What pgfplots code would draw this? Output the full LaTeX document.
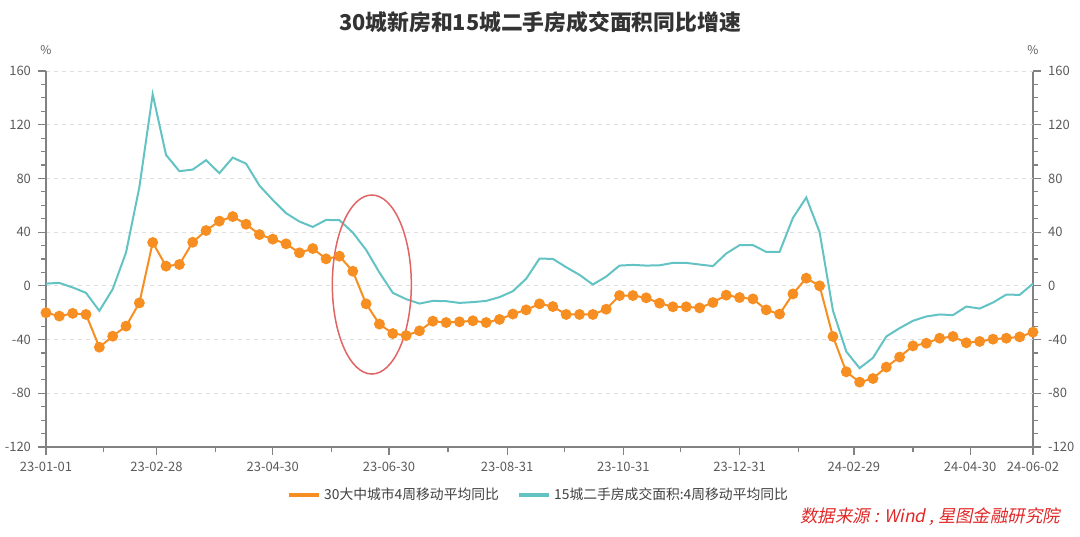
\documentclass[border=0pt]{standalone}
\usepackage{fontspec}
\setmainfont{Noto Sans CJK SC}
\newfontfamily\srcfont[FakeSlant=0.2]{Noto Sans CJK SC}
\usepackage{pgfplots}
\usepackage{pgfplotstable}
\pgfplotsset{compat=1.18}
\definecolor{cOrange}{RGB}{247,142,33}
\definecolor{cCyan}{RGB}{99,195,196}
\definecolor{cAxis}{RGB}{130,130,130}
\definecolor{cText}{RGB}{90,90,90}
\definecolor{cRed}{RGB}{225,40,40}
\definecolor{cEll}{RGB}{225,100,100}

\pgfplotstableread{
d o c
0 -20 1.7
7 -22.5 2.2
14 -20.5 -1.2
21 -21.3 -5.2
28 -45.7 -18.6
35 -37.5 -2.5
42 -30 24.8
49 -12.7 73.5
56 32.3 142.7
63 14.7 97.5
70 15.9 85.4
77 32.5 86.6
84 41.2 93.6
91 48.2 83.9
98 51.6 95.5
105 45.9 91
112 38.2 74.7
119 34.8 64
126 31.3 54.1
133 24.6 47.9
140 27.8 43.9
147 20.1 49.1
154 22.1 48.9
161 10.9 39.7
168 -13.4 26.8
175 -28.5 9.9
182 -35.5 -5.2
189 -37 -9.9
196 -33.5 -13.2
203 -26.3 -11.2
210 -27.3 -11.4
217 -26.8 -12.7
224 -26 -12.1
231 -27.3 -11.2
238 -25 -8.4
245 -21 -4
252 -17.9 5.3
259 -13.4 20.3
266 -15.4 20.1
273 -21.3 13.9
280 -21.3 8.2
287 -21.3 1
294 -17.4 6.9
301 -7.2 15.1
308 -7.2 15.6
315 -8.9 15.1
322 -12.9 15.3
329 -15.6 17.1
336 -15.6 17.1
343 -16.4 15.9
350 -12.4 14.7
357 -6.9 24.1
364 -8.7 30.3
371 -9.7 30.3
378 -17.9 25.3
385 -21 25.3
392 -6 50.6
399 5.7 65.8
406 0 40
413 -37.7 -18.4
420 -64 -48.9
427 -71.7 -61.3
434 -69 -53.6
441 -60.5 -37.7
448 -53 -31.5
455 -44.7 -26
462 -42.7 -22.8
469 -39 -21.3
476 -37.7 -21.8
483 -42.4 -15.4
490 -41.4 -16.9
497 -39.7 -12.4
504 -39 -6.5
511 -38 -6.7
518 -34.5 1.7
}\data

\begin{document}
\begin{tikzpicture}
\path[use as bounding box] (0,0) rectangle (540pt,268pt);
\pgfplotsset{
  common/.style={
    at={(23pt,44.5pt)}, anchor=south west, scale only axis,
    width=493.5pt, height=188pt,
    xmin=0, xmax=518, ymin=-120, ymax=160,
    axis line style={cAxis, line width=0.6pt},
    tick style={cAxis, line width=0.6pt},
    tick align=outside, major tick length=4pt, minor tick length=2.5pt,
    ytick={-120,-80,-40,0,40,80,120,160},
    yticklabels={-120,-80,-40,0,40,80,120,160},
    minor y tick num=3,
    tick label style={font=\fontsize{6.5}{7}\selectfont, text=cText},
  }
}
\begin{axis}[common, axis x line=none, axis y line*=right]
\end{axis}
\begin{axis}[common,
    axis x line*=bottom, axis y line*=left,
    xtick={0,58,119,180,242,303,364,424,485,518},
    xticklabels={23-01-01,23-02-28,23-04-30,23-06-30,23-08-31,23-10-31,23-12-31,24-02-29,24-04-30,24-06-02},
    minor xtick={30,89,150,211,272,333,395,455},
    ymajorgrids,
    major grid style={dash pattern=on 2pt off 2pt, black!13, line width=0.5pt},
    legend style={at={(0.5,-0.1277)}, anchor=center, draw=none, fill=none,
      legend columns=2, font=\fontsize{6.9}{8}\selectfont, text=black!75,
      /tikz/every even column/.append style={column sep=7pt}},
    legend image code/.code={\draw[#1, mark=none, line width=1.6pt] (0pt,0pt) -- (15pt,0pt);},
  ]
\addlegendimage{cOrange}
\addlegendentry{30大中城市4周移动平均同比}
\addlegendimage{cCyan}
\addlegendentry{15城二手房成交面积:4周移动平均同比}
\addplot[cCyan, line width=1pt, mark=none, forget plot] table[x=d, y=c] {\data};
\addplot[cOrange, line width=1pt, mark=*, mark size=2.2pt, mark options={fill=cOrange, draw=cOrange}, forget plot] table[x=d, y=o] {\data};
\draw[cEll, line width=0.75pt] (axis cs:171,1) ellipse [x radius=19.75pt, y radius=44.75pt];
\end{axis}
\node[font=\fontsize{10.9}{12}\bfseries\selectfont, text=black!80] at (270pt,257pt) {30城新房和15城二手房成交面积同比增速};
\node[font=\fontsize{6}{7}\selectfont, text=cText] at (23pt,243pt) {\%};
\node[font=\fontsize{6}{7}\selectfont, text=cText] at (516.5pt,243pt) {\%};
\node[anchor=east, font=\srcfont\fontsize{8.7}{10}\selectfont, text=cRed] at (533.5pt,9.5pt) {数据来源 : Wind , 星图金融研究院};
\end{tikzpicture}
\end{document}
